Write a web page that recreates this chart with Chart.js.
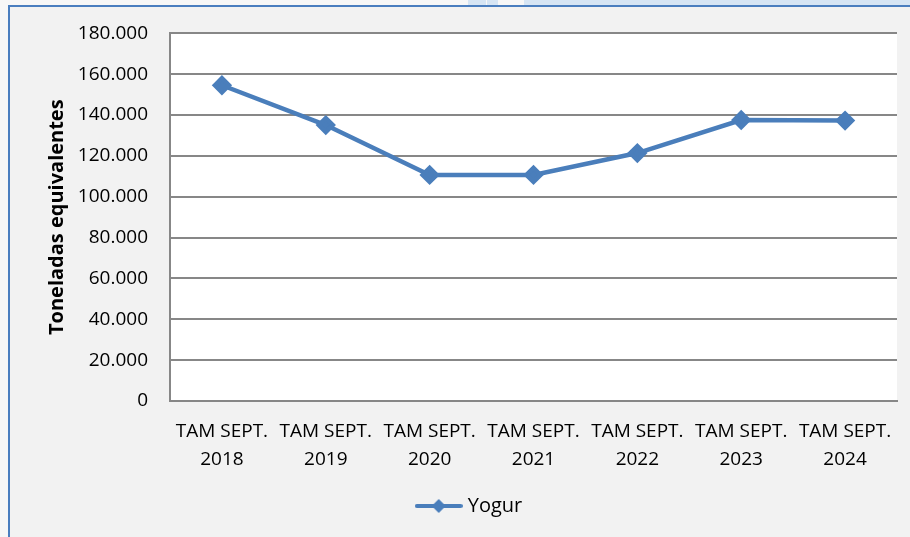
<!DOCTYPE html>
<html>
<head>
<meta charset="utf-8">
<script src="https://cdn.jsdelivr.net/npm/chart.js@4.4.1/dist/chart.umd.min.js"></script>
<style>
  html, body { margin: 0; padding: 0; background: #f7f7f7; }
  #wrap { position: relative; width: 910px; height: 537px; overflow: hidden; }
  .strip { position: absolute; top: 0; height: 5px; background: #d6e5f4; }
  #frame { position: absolute; left: 8px; top: 5px; right: 0; bottom: 0;
           background: #f2f2f2; border-top: 2px solid #4a7ebf; border-left: 2px solid #4a7ebf; }
  #chart { position: absolute; left: 0; top: 0; }
</style>
</head>
<body>
<div id="wrap">
  <div class="strip" style="left:468px;width:18px"></div>
  <div class="strip" style="left:487px;width:11px"></div>
  <div class="strip" style="left:524px;width:386px"></div>
  <div id="frame"></div>
  <canvas id="chart" width="910" height="537"></canvas>
</div>
<script>
// categories and values (toneladas equivalentes)
const years = ["2018", "2019", "2020", "2021", "2022", "2023", "2024"];
const labels = years.map(y => ["TAM SEPT.", y]);
const yogur = [154600, 135100, 110700, 110700, 121400, 137600, 137300];

const lineColor = "#4a7ebb";
const font = "'Open Sans', 'Liberation Sans', sans-serif";

const fmt = (v) => {
  if (v === 0) return "0";
  return String(v).replace(/\B(?=(\d{3})+(?!\d))/g, ".");
};

// legend icon: line with a diamond in the middle
const legendIcon = document.createElement("canvas");
legendIcon.width = 48;
legendIcon.height = 16;
(function () {
  const c = legendIcon.getContext("2d");
  c.strokeStyle = lineColor;
  c.lineWidth = 4;
  c.lineCap = "round";
  c.beginPath();
  c.moveTo(2, 8);
  c.lineTo(46, 8);
  c.stroke();
  c.fillStyle = lineColor;
  c.beginPath();
  c.moveTo(24, 1);
  c.lineTo(31, 8);
  c.lineTo(24, 15);
  c.lineTo(17, 8);
  c.closePath();
  c.fill();
})();

const plotBg = {
  id: "plotBg",
  beforeDraw(chart) {
    const { ctx, chartArea: a } = chart;
    ctx.save();
    ctx.fillStyle = "#ffffff";
    ctx.fillRect(a.left, a.top, a.right - a.left, a.bottom - a.top);
    ctx.restore();
  }
};

new Chart(document.getElementById("chart"), {
  type: "line",
  data: {
    labels: labels,
    datasets: [{
      label: "Yogur",
      data: yogur,
      borderColor: lineColor,
      backgroundColor: lineColor,
      borderWidth: 4.5,
      pointStyle: "rectRot",
      pointRadius: 7,
      pointHoverRadius: 7,
      tension: 0
    }]
  },
  options: {
    responsive: false,
    animation: false,
    layout: { padding: { left: 45, right: 13, top: 31, bottom: 11 } },
    plugins: {
      legend: {
        position: "bottom",
        labels: {
          usePointStyle: true,
          pointStyle: legendIcon,
          pointStyleWidth: 38,
          boxHeight: 16,
          color: "#000",
          font: { family: font, size: 20 },
          padding: 10
        }
      },
      tooltip: { enabled: false }
    },
    scales: {
      x: {
        offset: true,
        grid: { display: false, drawTicks: false },
        border: { display: true, color: "#878787", width: 2 },
        ticks: {
          color: "#000",
          font: { family: font, size: 19, lineHeight: 1.5 },
          maxRotation: 0,
          autoSkip: false,
          padding: 16
        },
        afterFit(scale) { scale.height = 85; }
      },
      y: {
        min: 0,
        max: 180000,
        grid: { color: "#878787", lineWidth: 2, drawTicks: false },
        border: { display: true, color: "#878787", width: 2 },
        ticks: {
          stepSize: 20000,
          color: "#000",
          font: { family: font, size: 19 },
          padding: 22,
          callback: (v) => fmt(v)
        },
        title: {
          display: true,
          text: "Toneladas equivalentes",
          color: "#000",
          font: { family: font, size: 20, weight: "bold" },
          padding: 0
        },
        afterFit(scale) { scale.width = 125; }
      }
    }
  },
  plugins: [plotBg]
});
</script>
</body>
</html>
